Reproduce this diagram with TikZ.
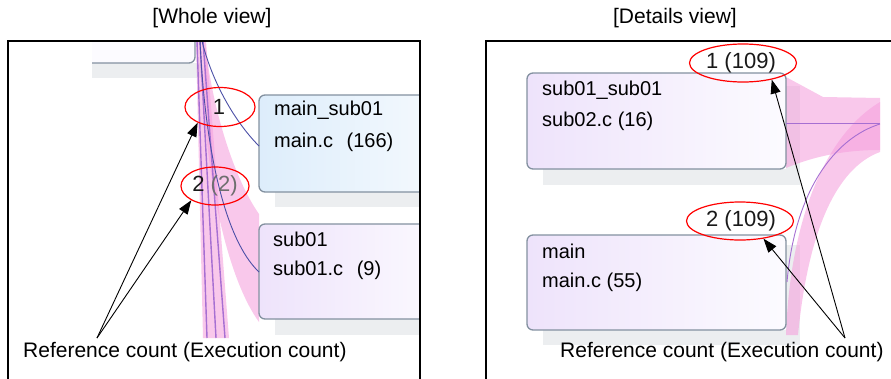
\documentclass[tikz,border=0pt]{standalone}
\usepackage{fontspec}
\setmainfont{Liberation Sans}
\usetikzlibrary{arrows.meta,shapes.geometric}
\definecolor{bandpink}{HTML}{F5A0DD}
\definecolor{purpline}{HTML}{A66FD2}
\definecolor{blueline}{HTML}{4B4FA6}
\definecolor{boxborder}{HTML}{8391A0}
\definecolor{shadowgray}{HTML}{ECEEF0}
\definecolor{blueL}{HTML}{DDEDFB}
\definecolor{blueR}{HTML}{F6FAFE}
\definecolor{lavL}{HTML}{EEE3FB}
\definecolor{lavR}{HTML}{FCFBFF}
\definecolor{countgray}{HTML}{6E6E6E}
\tikzset{
  titletext/.style={font=\fontsize{21}{25}\selectfont, inner sep=0pt},
  lbltext/.style={font=\fontsize{21}{25}\selectfont, inner sep=0pt, anchor=west},
  boxtext/.style={font=\fontsize{20}{24}\selectfont, inner sep=0pt, anchor=west, text=black},
  frameline/.style={line width=2pt, black},
  bandfill/.style={fill=bandpink, fill opacity=0.58},
  callbox/.style={draw=boxborder, line width=1.3pt, rounded corners=6pt},
  blueshade/.style={left color=blueL, right color=blueR},
  lavshade/.style={left color=lavL, right color=lavR},
  purp/.style={purpline, line width=1.4pt},
  bluecurve/.style={blueline, line width=0.9pt},
  countell/.style={ellipse, draw=red, line width=1.2pt, inner sep=0pt,
    font=\fontsize{22}{26}\selectfont, text=black!90},
  ptr/.style={black, line width=0.9pt, -{Triangle[length=14pt,width=10pt]}}
}
\begin{document}
\begin{tikzpicture}[x=1pt,y=-1pt]
\useasboundingbox (0,0) rectangle (891,378);

% titles
\node[titletext] (t1) at (212,18) {[Whole view]};
\node[titletext] (t2) at (675,18) {[Details view]};

% ---------------- left panel (whole view) ----------------
\begin{scope}
\clip (92,42) rectangle (419,338);
% top partial box
\fill[shadowgray] (92,63) rectangle (201,78);
\path[callbox, fill=lavR] (40,0) rectangle (195,63);
% shadows
\fill[shadowgray] (275,192) rectangle (440,207);
\fill[shadowgray] (275,319) rectangle (440,335);
% pink bands
\path[bandfill] (196,41) -- (206,41) -- (229,338) -- (203,338) -- cycle;
\path[bandfill] (205,41) .. controls (212,110) and (235,180) .. (259,214)
  -- (259,322) .. controls (232,285) and (209,200) .. (203,95) -- cycle;
% boxes
\path[callbox, blueshade] (259,95) rectangle (450,192);
\path[callbox, lavshade] (259,224) rectangle (450,319);
% purple lines
\draw[purp] (197,41) -- (207,338);
\draw[purp] (200,41) -- (216,338);
\draw[purp] (203,41) -- (225,338);
% blue curves
\draw[bluecurve] (202,41) .. controls (212,82) and (235,122) .. (259,146);
\draw[bluecurve] (200,41) .. controls (205,150) and (225,240) .. (259,272);
\end{scope}

\node[boxtext] (n1a) at (274,110) {main\_sub01};
\node[boxtext] (n1b) at (274,142) {main.c\hspace{0.4em} (166)};
\node[boxtext] (n2a) at (273,239) {sub01};
\node[boxtext] (n2b) at (273,270) {sub01.c\hspace{0.4em} (9)};

\node[countell, minimum width=70pt, minimum height=39pt] (e1) at (220,107) {\hspace{-2pt}1};
\node[countell, minimum width=68pt, minimum height=38pt] (e2) at (215,186) {2 \textcolor{countgray}{(2)}};

\draw[frameline] (8,382) -- (8,41) -- (420,41) -- (420,382);

\node[lbltext] (l1) at (23,352) {Reference count (Execution count)};
\coordinate (la) at (97,338);
\draw[ptr] (la) -- (e1.215);
\draw[ptr] (la) -- (e2.211);

% ---------------- right panel (details view) ----------------
\begin{scope}
\clip (487,42) rectangle (880,346);
% shadows
\fill[shadowgray] (543,169) rectangle (800,185);
\fill[shadowgray] (786,86) rectangle (800,185);
\fill[shadowgray] (543,330) rectangle (800,345);
\fill[shadowgray] (786,245) rectangle (800,345);
% pink bands
\path[bandfill] (786,77) -- (823,97) -- (880,98) -- (880,150)
  .. controls (840,150) and (810,158) .. (786,168) -- cycle;
\path[bandfill] (786,335) .. controls (790,220) and (825,135) .. (880,102)
  -- (880,152) .. controls (836,168) and (808,232) .. (798,335) -- cycle;
% boxes
\path[callbox, lavshade] (527,73) rectangle (786,169);
\path[callbox, lavshade] (527,235) rectangle (786,330);
% purple lines
\draw[purp, line width=1pt] (786,123) -- (880,123);
\draw[purp, line width=0.9pt] (787,282) .. controls (795,190) and (835,138) .. (880,124);
\end{scope}

\node[boxtext] (n3a) at (542,90) {sub01\_sub01};
\node[boxtext] (n3b) at (542,121) {sub02.c (16)};
\node[boxtext] (n4a) at (542,251) {main};
\node[boxtext] (n4b) at (542,282) {main.c (55)};

\node[countell, minimum width=107pt, minimum height=38pt] (e3) at (743,63) {\hspace{-4pt}1 (109)};
\node[countell, minimum width=107pt, minimum height=38pt] (e4) at (740,221) {\hspace{2pt}2 (109)};

\draw[frameline] (486,382) -- (486,41) -- (895,41);

\node[lbltext] (l2) at (560,352) {Reference count (Execution count)};
\coordinate (ra) at (845,338);
\draw[ptr] (ra) -- (e3.330);
\draw[ptr] (ra) -- (e4.323);
\end{tikzpicture}
\end{document}
